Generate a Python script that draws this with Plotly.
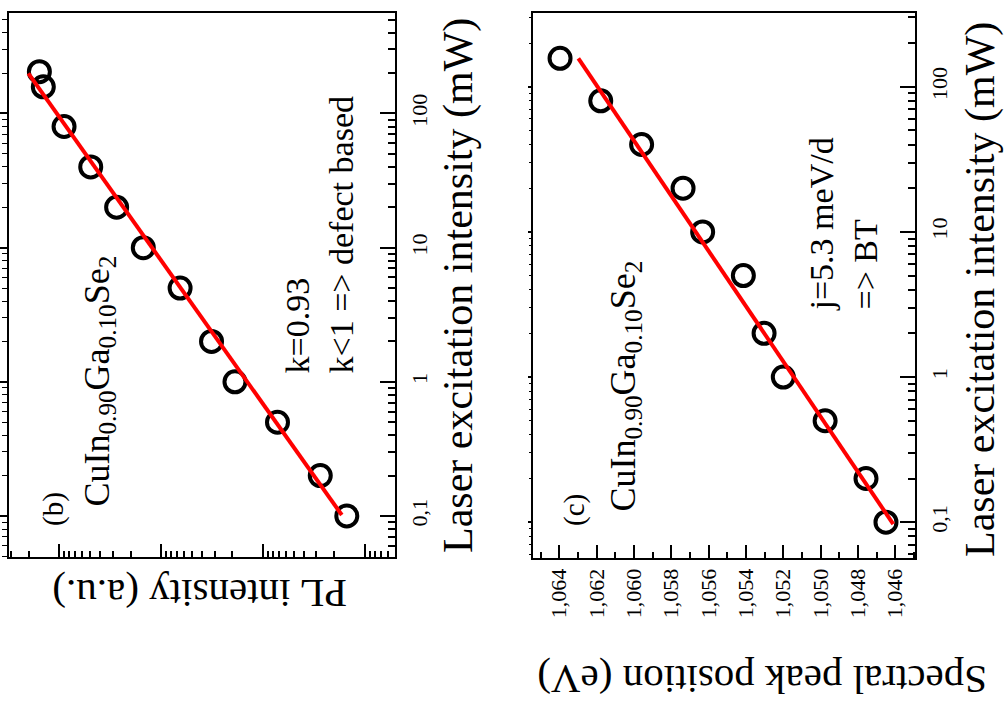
import plotly.graph_objects as go

W, H = 1006, 706

# ---------------- data ----------------
# panel (b): PL intensity vs laser excitation intensity
laser_b = [205, 158, 80, 40, 20, 10, 5, 2, 1, 0.5, 0.2, 0.1]
pl_b = [1570, 1436, 899, 492, 274, 150, 65.3, 32.1, 18.9, 7.23, 2.75, 1.51]
fit_b_laser = [199, 0.1017]
fit_b_pl = [2014, 1.69]

# panel (c): spectral peak position vs laser excitation intensity
laser_c = [157, 80, 40, 20, 10, 5, 2, 1, 0.5, 0.2, 0.1]
peak_c = [1.06396, 1.06178, 1.05959, 1.05737, 1.05632, 1.05414, 1.05303,
          1.05200, 1.04976, 1.04757, 1.04650]
fit_c_laser = [157, 0.097]
fit_c_peak = [1.06298, 1.04611]

laser_tickvals = [0.1, 1, 10, 100]
laser_ticktext = ["0,1", "1", "10", "100"]
peak_tickvals = [1.064, 1.062, 1.060, 1.058, 1.056, 1.054, 1.052, 1.050, 1.048, 1.046]
peak_ticktext = ["1,064", "1,062", "1,060", "1,058", "1,056", "1,054", "1,052",
                 "1,050", "1,048", "1,046"]

FONT = "Liberation Serif"


def px(x):
    return x / W


def py(y):
    return 1 - y / H


fig = go.Figure()

marker = dict(symbol="circle-open", size=21, color="black", line=dict(width=4))
redline = dict(color="#ff0000", width=4)

# panel (b)
fig.add_trace(go.Scatter(x=pl_b, y=laser_b, mode="markers", marker=marker,
                         xaxis="x", yaxis="y", showlegend=False))
fig.add_trace(go.Scatter(x=fit_b_pl, y=fit_b_laser, mode="lines", line=redline,
                         xaxis="x", yaxis="y", showlegend=False))
# panel (c)
fig.add_trace(go.Scatter(x=peak_c, y=laser_c, mode="markers", marker=marker,
                         xaxis="x2", yaxis="y2", showlegend=False))
fig.add_trace(go.Scatter(x=fit_c_peak, y=fit_c_laser, mode="lines", line=redline,
                         xaxis="x2", yaxis="y2", showlegend=False))
# invisible traces for the left-side (outward) tick axes
fig.add_trace(go.Scatter(x=pl_b, y=laser_b, mode="markers", marker=dict(opacity=0),
                         xaxis="x", yaxis="y3", showlegend=False, hoverinfo="skip"))
fig.add_trace(go.Scatter(x=peak_c, y=laser_c, mode="markers", marker=dict(opacity=0),
                         xaxis="x2", yaxis="y4", showlegend=False, hoverinfo="skip"))

dom_bx = [px(9), px(395)]
dom_by = [py(557), py(13)]
dom_cx = [px(533), px(915)]
dom_cy = [py(558), py(13)]

range_b_laser = [-1.3055, 2.749]
range_c_laser = [-1.2466, 2.508]
range_b_pl = [3.494, -0.294]
range_c_peak = [1.065409, 1.044945]

tickfont = dict(family=FONT, size=22, color="black")

common_axis = dict(showgrid=False, zeroline=False, showline=True, linecolor="black",
                   linewidth=2, mirror=True, tickcolor="black", tickwidth=2)

fig.update_layout(
    width=W, height=H,
    margin=dict(l=0, r=0, t=0, b=0),
    paper_bgcolor="white", plot_bgcolor="white",
    font=dict(family=FONT, color="black"),
    showlegend=False,
    xaxis=dict(domain=dom_bx, anchor="y", type="log", range=range_b_pl,
               autorange=False, tickmode="linear", tick0=0, dtick=1,
               ticks="inside", ticklen=13, showticklabels=False,
               minor=dict(dtick="D1", ticks="inside", ticklen=6, tickcolor="black",
                          tickwidth=1.5, showgrid=False),
               **common_axis),
    yaxis=dict(domain=dom_by, anchor="x", side="right", type="log",
               range=range_b_laser, autorange=False, tickmode="array",
               tickvals=laser_tickvals, ticktext=laser_ticktext,
               ticks="inside", ticklen=15, tickangle=-90, tickfont=tickfont,
               ticklabelstandoff=4,
               minor=dict(dtick="D1", ticks="inside", ticklen=7, tickcolor="black",
                          tickwidth=1.5, showgrid=False),
               **common_axis),
    yaxis3=dict(overlaying="y", anchor="x", side="left", type="log",
                range=range_b_laser, autorange=False, tickmode="array",
                tickvals=laser_tickvals, ticks="outside", ticklen=8,
                tickcolor="black", tickwidth=1.5, showticklabels=False,
                showgrid=False, zeroline=False, showline=False,
                minor=dict(dtick="D1", ticks="outside", ticklen=6, tickcolor="black",
                           tickwidth=1.2, showgrid=False)),
    xaxis2=dict(domain=dom_cx, anchor="y2", range=range_c_peak, autorange=False,
                tickmode="array", tickvals=peak_tickvals, ticktext=peak_ticktext,
                ticks="inside", ticklen=13, tickangle=-90, tickfont=tickfont,
                ticklabelstandoff=0,
                minor=dict(tickmode="linear", tick0=1.045, dtick=0.001, ticks="inside",
                           ticklen=6, tickcolor="black", tickwidth=1.5, showgrid=False),
                **common_axis),
    yaxis2=dict(domain=dom_cy, anchor="x2", side="right", type="log",
                range=range_c_laser, autorange=False, tickmode="array",
                tickvals=laser_tickvals, ticktext=laser_ticktext,
                ticks="inside", ticklen=15, tickangle=-90, tickfont=tickfont,
                ticklabelstandoff=4,
                minor=dict(dtick="D1", ticks="inside", ticklen=7, tickcolor="black",
                           tickwidth=1.5, showgrid=False),
                **common_axis),
    yaxis4=dict(overlaying="y2", anchor="x2", side="left", type="log",
                range=range_c_laser, autorange=False, tickmode="array",
                tickvals=laser_tickvals, ticks="outside", ticklen=4,
                tickcolor="black", tickwidth=1.5, showticklabels=False,
                showgrid=False, zeroline=False, showline=False,
                minor=dict(dtick="D1", ticks="outside", ticklen=3, tickcolor="black",
                           tickwidth=1.2, showgrid=False)),
)


def ann(text, x, y, size, angle, xanchor="center", yanchor="middle", align="center"):
    fig.add_annotation(text=text, x=px(x), y=py(y), xref="paper", yref="paper",
                       showarrow=False, textangle=angle, xanchor=xanchor,
                       yanchor=yanchor, align=align,
                       font=dict(family=FONT, size=size, color="black"))


# axis titles
ann("Laser excitation intensity (mW)", 459, 286, 42, -90)
ann("Laser excitation intensity (mW)", 980, 290, 42, -90)
ann("PL intensity (a.u.)", 200, 594, 41, 180)
ann("Spectral peak position (eV)", 762, 680, 41, 180)

# panel labels and compositions
formula = "CuIn<sub>0.90</sub>Ga<sub>0.10</sub>Se<sub>2</sub>"
ann("(b)", 53, 528, 29, -90, yanchor="bottom")
ann(formula, 99, 509, 36, -90, yanchor="bottom")
ann("(c)", 574, 528, 29, -90, yanchor="bottom")
ann(formula, 625, 514, 36, -90, yanchor="bottom")

# fit results
ann("k=0.93<br>k&lt;1 =&gt; defect based", 319, 376, 34, -90, yanchor="bottom", align="left")
ann("j=5.3 meV/d<br>=&gt; BT", 843, 313, 34, -90, yanchor="bottom", align="left")

fig.write_html("out.html")
